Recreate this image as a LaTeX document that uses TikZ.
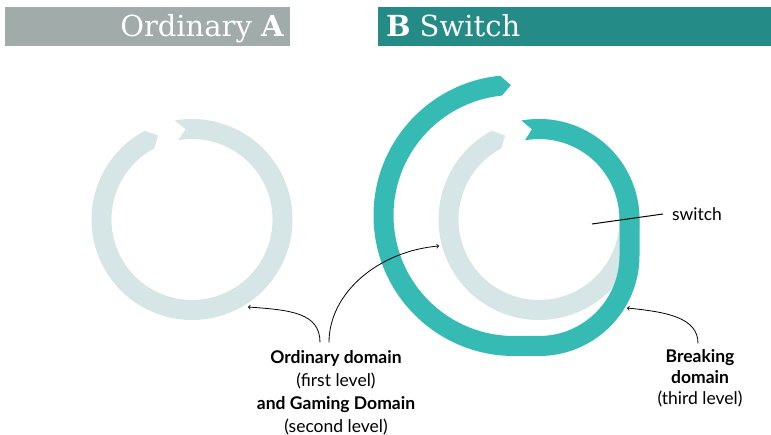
\documentclass[tikz,border=0pt]{standalone}
\usepackage{fontspec}
\setmainfont{Lato}
\newfontfamily\slab{DejaVu Serif}
\usetikzlibrary{calc}
\definecolor{bargray}{HTML}{A1ACAA}
\definecolor{barteal}{HTML}{258B86}
\definecolor{ringteal}{HTML}{35BAB4}
\definecolor{ringlight}{HTML}{D6E6E6}

\begin{document}
\begin{tikzpicture}[
		x=1pt, y=1pt,
		every node/.style={inner sep=0pt, outer sep=0pt},
		title/.style={text=white, font=\slab\fontsize{29}{29}\selectfont},
		label text/.style={align=center, font=\fontsize{17.5}{23}\selectfont},
		pointer/.style={->, line width=0.8pt},
		]
		\useasboundingbox (0,0) rectangle (771,-435);
		% header bars
		\fill[bargray] (5,-7) rectangle (290,-46.5);
		\fill[barteal] (378,-7) rectangle (771,-46.5);
		\node[title, anchor=base east] (titleA) at (284,-37) {Ordinary \textbf{A}};
		\node[title, anchor=base west] (titleB) at (386,-37) {\textbf{B} Switch};
		
		\coordinate (cA) at (192,-219.5);
		\coordinate (cB) at (539,-219.5);
		\coordinate (cT) at (539,-255.5);
		\coordinate (cS) at (514,-215.5);
		
		% ordinary rings
		\foreach \c in {cA,cB} {
			\fill[ringlight] ($(\c)+(100:100.5)$) arc[start angle=100, end angle=-242, radius=100.5]
			-- ($(\c)+(-248:90.5)$) -- ($(\c)+(-242:80.5)$)
			arc[start angle=-242, end angle=100, radius=80.5]
			-- ($(\c)+(94:90.5)$) -- cycle;
		}
		
		% switch spiral
		\fill[ringteal] ($(cB)+(100:100.5)$) arc[start angle=100, end angle=0, radius=100.5]
		-- ($(cT)+(0:100.5)$) arc[start angle=0, end angle=-90, radius=100.5]
		-- ($(cS)+(-90:140.5)$) arc[start angle=-90, end angle=-264.3, radius=140.5]
		-- ($(cS)+(-268.6:130.5)$) -- ($(cS)+(-264.3:120.5)$)
		arc[start angle=-264.3, end angle=-90, radius=120.5]
		-- ($(cT)+(-90:80.5)$) arc[start angle=-90, end angle=0, radius=80.5]
		-- ($(cB)+(0:80.5)$) arc[start angle=0, end angle=100, radius=80.5]
		-- ($(cB)+(94.5:90.5)$) -- cycle;
		
		% labels
		\node[label text, anchor=north] (ordlab) at (336,-350.5) {\textbf{Ordinary domain}\\(first level)\\\textbf{and Gaming Domain}\\(second level)};
		\node[label text, anchor=north, font=\fontsize{17.5}{21}\selectfont] (brklab) at (700,-349.5) {\textbf{Breaking}\\\textbf{domain}\\(third level)};
		\node[anchor=west, font=\fontsize{17.5}{20}\selectfont] (swlab) at (672,-214) {switch};
		
		\coordinate (tipA) at (248,-307);
		\coordinate (tipB) at (439,-246);
		\coordinate (tipC) at (627,-308);
		\coordinate (swpt) at (592,-224);
		
		% pointers
		\draw[line width=1pt] (swpt) -- ([xshift=-9]swlab.west);
		\draw[pointer] ([shift={(-16,8)}]ordlab.north) .. controls +(0,30) and +(42,-3) .. (tipA);
		\draw[pointer] ([shift={(-7,8)}]ordlab.north) .. controls +(0,50) and +(-60,-5) .. (tipB);
		\draw[pointer] ([shift={(-2,6)}]brklab.north) .. controls +(0,26) and +(40,-4) .. (tipC);
	\end{tikzpicture}
\end{document}
